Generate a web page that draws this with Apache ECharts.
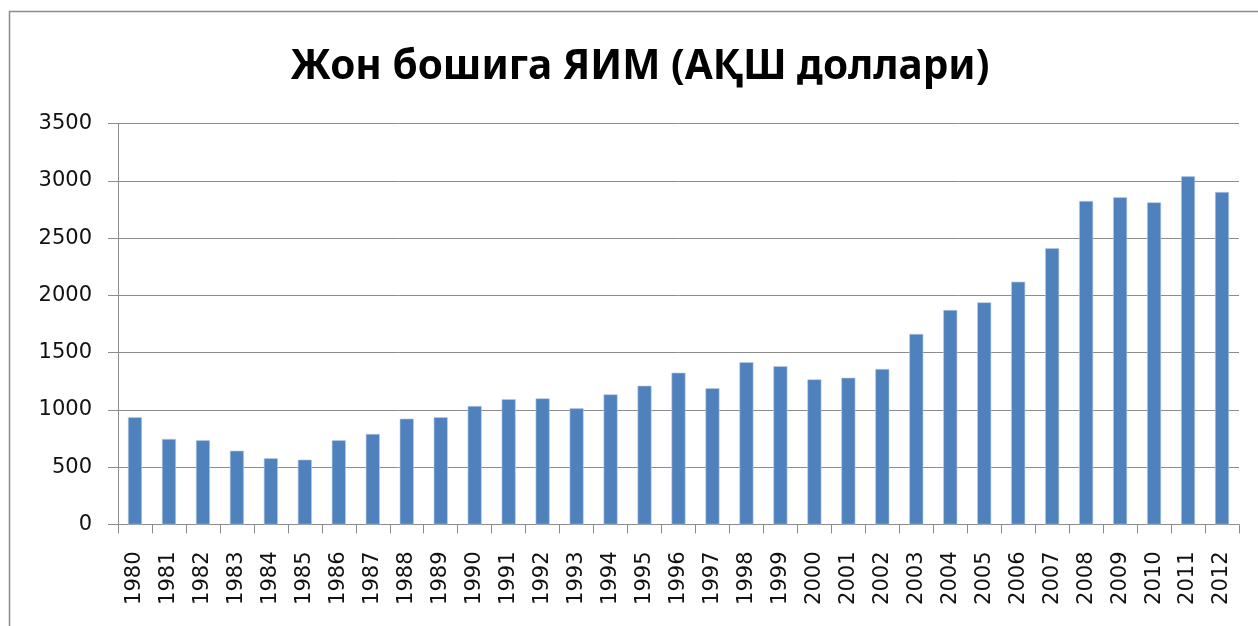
<!DOCTYPE html>
<html><head><meta charset="utf-8">
<script src="https://cdn.jsdelivr.net/npm/echarts@6/dist/echarts.min.js"></script>
<style>html,body{margin:0;padding:0;background:#fff}#c{width:1258px;height:626px}</style>
</head><body><div id="c"></div>
<script>
const titleText = 'Жон бошига ЯИМ (АҚШ доллари)';
const years = ['1980','1981','1982','1983','1984','1985','1986','1987','1988','1989','1990','1991','1992','1993','1994','1995','1996','1997','1998','1999','2000','2001','2002','2003','2004','2005','2006','2007','2008','2009','2010','2011','2012'];
const gdp = [936,746,735,644,578,566,735,790,924,936,1034,1093,1101,1014,1136,1211,1325,1189,1416,1381,1267,1281,1357,1663,1872,1939,2119,2411,2824,2856,2812,3039,2902];
const yTicks = {min:0, max:3500, interval:500};

const chart = echarts.init(document.getElementById('c'), null, {renderer:'canvas'});
chart.setOption({
  animation:false,
  backgroundColor:'#fff',
  graphic:[{type:'rect', shape:{x:9.5,y:11.5,width:1300,height:700}, style:{fill:'none', stroke:'#8c8c8c', lineWidth:1.5}, silent:true}],
  title:{text:titleText, left:635, textAlign:'center', top:42, textStyle:{fontFamily:'Noto Sans, sans-serif', fontWeight:'bold', fontSize:40.5, color:'#000'}},
  grid:{left:118, right:19, top:123.5, bottom:101.5, containLabel:false},
  xAxis:{type:'category', data:years,
    axisLine:{lineStyle:{color:'#8c8c8c', width:1}},
    axisTick:{show:true, length:9, lineStyle:{color:'#8c8c8c'}},
    axisLabel:{rotate:90, margin:27, interval:0, fontFamily:'DejaVu Sans', fontSize:21, color:'#111'}},
  yAxis:{type:'value', min:yTicks.min, max:yTicks.max, interval:yTicks.interval,
    axisLine:{show:true, lineStyle:{color:'#8c8c8c', width:1}},
    axisTick:{show:true, length:10, lineStyle:{color:'#8c8c8c'}},
    splitLine:{lineStyle:{color:'#8c8c8c', width:1}},
    axisLabel:{margin:26, fontFamily:'DejaVu Sans', fontSize:21, color:'#111', formatter:function(v){return String(v);}}},
  series:[{type:'bar', data:gdp, barWidth:14,
    itemStyle:{color:'#4f81bd', borderColor:'#b8cce4', borderWidth:0.6}}]
});
</script></body></html>
